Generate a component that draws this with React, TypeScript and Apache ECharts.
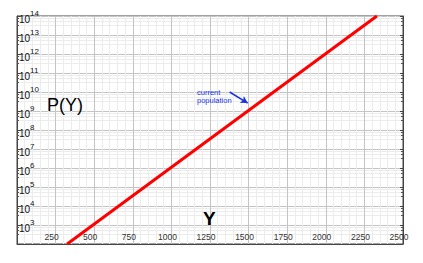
import React, { useEffect, useRef } from "react";
import * as echarts from "echarts";

const yearValues = [325, 2331];
const populationValues = [1e2, 1e14];
const arrowStart = [1377, 1e10];
const arrowEnd = [1494, 2.6e9];
const xTickInterval = 250;
const xMin = 0;
const xMax = 2500;
const yMin = 1e2;
const yMax = 1e14;

export default function App() {
  const ref = useRef<HTMLDivElement>(null);
  useEffect(() => {
    if (!ref.current) return;
    const chart = echarts.init(ref.current, null, { renderer: "svg" });
    const font = "Liberation Sans, Arial, sans-serif";
    const yAxisCommon = {
      type: "log" as const,
      logBase: 10,
      min: yMin,
      max: yMax,
      interval: 1,
      axisLine: { show: true, lineStyle: { color: "#444", width: 1 } },
      axisTick: { show: true, inside: true, length: 3, lineStyle: { color: "#444" } },
      minorTick: { show: true, splitNumber: 4, length: 2, lineStyle: { color: "#555" } },
    };
    chart.setOption({
      animation: false,
      backgroundColor: "#fff",
      grid: {
        left: 17,
        right: 20,
        top: 16,
        bottom: 19,
        show: true,
        borderColor: "#444",
        borderWidth: 1,
        backgroundColor: "#fff",
      },
      xAxis: {
        type: "value",
        min: xMin,
        max: xMax,
        interval: xTickInterval,
        axisLine: { show: true, lineStyle: { color: "#444" } },
        axisTick: { show: false },
        axisLabel: {
          inside: true,
          margin: 3,
          showMinLabel: false,
          color: "#333",
          fontSize: 8.5,
          fontFamily: font,
          padding: [0, 8, 0, 0],
          formatter: (v: number) => String(v),
        },
        splitLine: { show: true, lineStyle: { color: "#c4c4c4", width: 1 } },
        minorTick: { show: false, splitNumber: 5 },
        minorSplitLine: { show: true, lineStyle: { color: "#ececec", width: 1 } },
      },
      yAxis: [
        {
          ...yAxisCommon,
          position: "left",
          axisLabel: {
            inside: true,
            margin: 2,
            showMinLabel: false,
            color: "#111",
            fontFamily: font,
            formatter: (v: number) => {
              const n = Math.round(Math.log10(v));
              return `{b|10}{e|${n}}`;
            },
            rich: {
              b: { fontSize: 10, fontFamily: font, color: "#111", padding: [6, 0, 0, 0] },
              e: { fontSize: 8, fontFamily: font, color: "#111", padding: [0, 0, 6, 0] },
            },
          },
          splitLine: { show: true, lineStyle: { color: "#c4c4c4", width: 1 } },
          minorSplitLine: { show: true, lineStyle: { color: "#ececec", width: 1 } },
        },
        {
          ...yAxisCommon,
          position: "right",
          axisLabel: { show: false },
          splitLine: { show: false },
          minorSplitLine: { show: false },
        },
      ],
      series: [
        {
          type: "line",
          data: yearValues.map((y, i) => [y, populationValues[i]]),
          showSymbol: false,
          symbol: "none",
          lineStyle: { color: "#f00", width: 3 },
          clip: true,
          markLine: {
            silent: true,
            symbol: ["none", "arrow"],
            symbolSize: [6, 7],
            label: { show: false },
            lineStyle: { color: "#1733e6", width: 1.5, type: "solid" },
            data: [[{ coord: arrowStart }, { coord: arrowEnd }]],
          },
        },
      ],
      graphic: [
        {
          type: "text",
          left: 47,
          top: 96,
          z: 100,
          style: {
            text: "P(Y)",
            fontSize: 18,
            fontFamily: font,
            fill: "#000",
            stroke: "none",
            lineWidth: 0,
          },
        },
        {
          type: "text",
          left: 203,
          top: 209,
          z: 100,
          style: {
            text: "Y",
            fontSize: 19,
            fontWeight: "bold",
            fontFamily: font,
            fill: "#000",
            stroke: "none",
            lineWidth: 0,
          },
        },
        {
          type: "text",
          left: 197,
          top: 88,
          z: 100,
          style: {
            text: "current\npopulation",
            fontSize: 7.5,
            lineHeight: 8,
            fontFamily: font,
            fill: "#1733e6",
            stroke: "none",
            lineWidth: 0,
          },
        },
      ],
    });
    return () => chart.dispose();
  }, []);
  return (
    <div
      ref={ref}
      style={{ position: "fixed", left: 0, top: 0, width: 423, height: 263 }}
    />
  );
}
